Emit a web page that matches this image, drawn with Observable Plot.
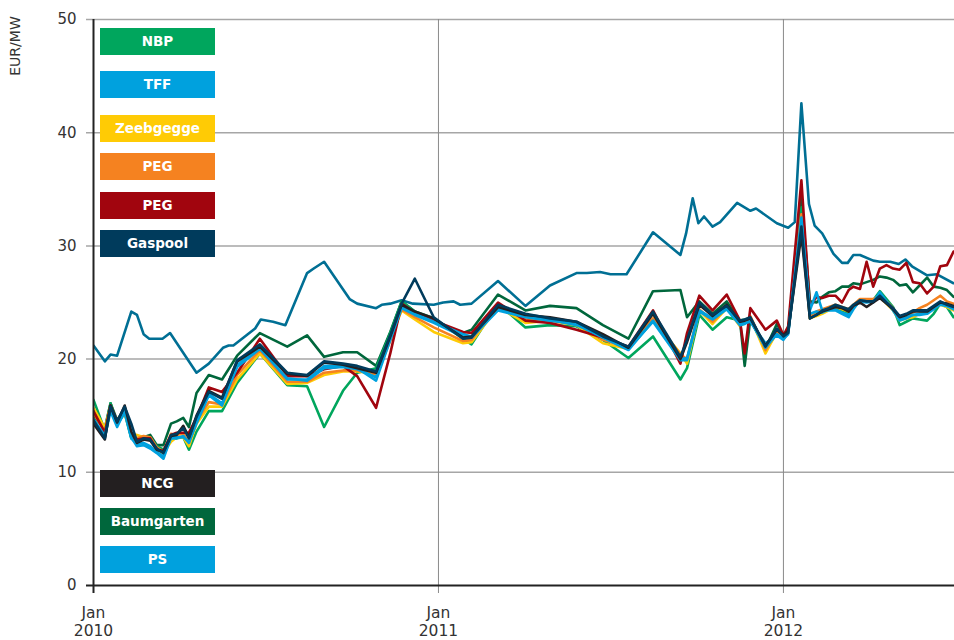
<!DOCTYPE html>
<html><head><meta charset="utf-8">
<script src="https://cdn.jsdelivr.net/npm/d3@7"></script>
<script src="https://cdn.jsdelivr.net/npm/@observablehq/plot@0.6"></script>
<style>
body{margin:0;background:#fff;}
#wrap{position:relative;width:954px;height:640px;overflow:hidden;}
.lg{position:absolute;left:100px;width:115px;height:27px;text-align:center;color:#fff;font-family:"DejaVu Sans",sans-serif;font-weight:bold;font-size:13.5px;line-height:27px;}
.ylab{position:absolute;left:15px;top:46px;transform:translate(-50%,-50%) rotate(-90deg);font-family:"DejaVu Sans",sans-serif;font-size:14px;color:#333;white-space:nowrap;line-height:1;}
</style></head><body><div id="wrap"></div>
<script>
// ---- data ----
const yLabel = "EUR/MW";
const yTicks = [0, 10, 20, 30, 40, 50];
const xTicks = ["2010-01-01", "2011-01-01", "2012-01-01"];

const dates = ["2010-01-01","2010-01-13","2010-01-19","2010-01-26","2010-02-03","2010-02-10","2010-02-16","2010-02-23","2010-03-02","2010-03-09",
"2010-03-16","2010-03-24","2010-03-30","2010-04-06","2010-04-12","2010-04-20","2010-05-03","2010-05-17","2010-06-02","2010-06-26",
"2010-07-25","2010-08-15","2010-09-02","2010-09-22","2010-10-07","2010-10-27","2010-11-11","2010-11-23","2010-12-07","2010-12-27",
"2011-01-27","2011-02-05","2011-03-05","2011-04-03","2011-04-29","2011-05-27","2011-06-24","2011-07-21","2011-08-16","2011-09-14",
"2011-09-21","2011-10-04","2011-10-18","2011-11-02","2011-11-16","2011-11-21","2011-11-27","2011-12-13","2011-12-25","2012-01-01",
"2012-01-06","2012-01-20","2012-01-29","2012-02-05","2012-02-11","2012-02-18","2012-02-25","2012-03-03","2012-03-10","2012-03-15",
"2012-03-22","2012-03-29","2012-04-05","2012-04-12","2012-04-19","2012-04-26","2012-05-03","2012-05-10","2012-05-17","2012-05-24",
"2012-06-01","2012-06-08","2012-06-15","2012-06-22","2012-06-29"];

const NBP = [16.4,13.7,16.1,14.3,15.2,13.0,13.0,12.9,13.1,12.3, 12.0,12.9,13.0,13.1,12.0,13.6,15.4,15.4,17.9,20.5,
17.7,17.6,14.0,17.2,18.8,19.2,22.3,25.1,24.2,23.6, 21.8,21.3,24.9,22.8,23.0,22.9,21.7,20.1,22.0,18.2,
19.2,23.9,22.6,23.7,23.4,23.5,23.6,20.8,22.3,22.0, 22.4,33.4,24.0,24.1,24.3,24.4,24.5,24.3,24.0,24.6,
25.2,25.2,25.2,26.0,25.3,24.6,23.0,23.3,23.6,23.5, 23.4,24.0,24.9,24.6,23.7];

const TFF = [14.7,13.2,15.6,14.2,15.3,13.0,12.5,12.6,12.3,11.8, 11.4,13.0,13.0,13.2,12.6,14.5,16.9,16.1,19.3,20.9,
18.3,18.1,19.2,19.3,19.1,18.4,21.8,24.5,23.9,23.2, 22.0,21.9,24.3,23.7,23.4,23.1,21.9,20.8,23.4,20.0,
20.1,24.2,23.5,24.4,23.0,23.1,23.4,21.0,22.2,21.8, 22.2,32.5,24.0,24.2,24.1,24.4,24.4,24.1,23.9,24.5,
25.1,25.0,25.1,25.7,25.0,24.4,23.6,23.7,23.9,24.0, 24.1,24.5,24.8,24.7,24.4];

const Zeebgegge = [15.7,13.9,15.8,14.5,15.2,13.4,13.3,13.1,13.0,12.0, 11.7,12.7,13.1,13.1,12.3,14.3,15.8,15.8,18.2,20.5,
17.8,17.9,18.6,18.9,18.9,18.7,21.8,24.3,23.5,22.4, 21.4,21.5,24.6,23.2,23.4,23.0,21.4,20.9,23.4,20.5,
19.6,24.3,23.1,24.5,22.9,23.2,23.7,20.5,22.4,21.8, 22.4,32.3,23.6,23.8,24.0,24.3,24.6,24.4,24.2,24.6,
25.1,25.2,25.2,25.5,24.9,24.3,23.4,23.6,23.7,24.0, 24.2,24.5,24.8,24.6,24.3];

const PEG_orange = [15.2,13.6,15.7,14.4,15.3,13.3,13.0,13.2,13.1,12.2, 11.8,13.4,13.3,13.4,12.6,14.5,16.2,16.0,18.6,20.8,
18.0,18.0,18.8,19.0,19.0,18.6,21.6,24.4,23.7,22.8, 21.6,21.7,24.8,23.5,23.5,23.1,21.7,21.0,23.6,20.4,
20.0,24.4,23.3,24.6,23.0,23.3,23.8,20.8,22.5,21.9, 22.5,32.8,23.8,24.2,24.4,24.6,24.8,24.6,24.4,24.8,
25.3,25.3,25.3,25.6,25.1,24.5,23.6,23.9,24.1,24.5, 24.8,25.2,25.6,25.1,24.9];

const PEG_red = [15.4,13.5,15.9,14.5,15.7,13.2,12.9,13.0,13.0,12.0, 11.9,13.3,13.5,13.5,13.5,14.8,17.5,17.1,18.8,21.8,
18.5,18.5,19.1,19.4,18.5,15.7,20.5,24.9,24.1,23.4, 22.4,22.3,25.0,23.4,23.2,22.6,21.9,21.1,24.3,19.6,
22.3,25.6,24.3,25.7,23.4,20.5,24.5,22.6,23.4,22.1, 22.9,35.8,24.6,25.5,25.4,25.6,25.6,25.0,26.1,26.4,
26.2,28.6,26.4,28.0,28.3,28.0,27.9,28.5,26.8,26.7, 25.8,26.4,28.2,28.3,29.5];

const Gaspool = [14.6,13.0,15.8,14.5,15.8,14.3,12.7,13.0,12.9,12.1, 11.7,13.3,13.4,13.9,13.0,14.9,17.1,16.5,19.9,21.3,
18.8,18.6,19.8,19.6,19.4,18.9,22.1,24.9,27.1,23.7, 21.8,21.9,24.8,24.0,23.6,23.3,22.0,21.1,24.2,20.2,
21.7,25.0,23.9,24.7,23.4,23.5,23.7,21.1,22.7,22.0, 22.3,31.7,23.6,23.9,24.3,24.5,24.8,24.6,24.4,24.8,
25.2,25.1,25.1,25.6,25.0,24.5,23.8,24.0,24.3,24.3, 24.3,24.7,25.1,24.8,24.6];

const NCG = [14.3,12.9,15.9,14.4,15.9,13.6,12.6,12.9,12.8,12.0, 11.8,13.2,13.3,14.1,13.1,15.0,17.2,16.6,19.8,21.1,
18.7,18.5,19.7,19.5,19.2,18.8,22.0,24.8,24.2,23.6, 21.9,22.0,24.6,23.9,23.7,23.3,22.2,21.0,24.0,20.0,
21.5,24.8,23.8,24.8,23.3,23.4,23.6,21.2,22.6,22.1, 22.5,31.0,23.6,23.9,24.2,24.4,24.6,24.5,24.2,24.7,
25.0,24.6,25.0,25.4,24.9,24.4,23.7,23.9,24.2,24.2, 24.2,24.6,25.0,24.9,24.7];

const Baumgarten = [14.9,13.9,16.1,14.6,15.6,13.1,13.0,13.1,13.3,12.4, 12.4,14.3,14.5,14.8,14.0,17.0,18.6,18.2,20.3,22.3,
21.1,22.1,20.2,20.6,20.6,19.4,22.4,25.1,24.2,23.3, 22.3,22.6,25.7,24.3,24.7,24.5,23.0,21.8,26.0,26.1,
23.7,25.1,24.0,25.1,23.4,19.4,23.6,20.9,23.1,22.1, 22.4,34.3,25.1,25.0,25.5,25.9,26.0,26.4,26.4,26.7,
26.6,26.8,27.0,27.3,27.2,27.0,26.5,26.6,25.9,26.5, 27.2,26.4,26.3,26.1,25.5];

const PS = [14.5,13.1,15.4,14.0,15.4,13.1,12.3,12.4,12.1,11.7, 11.2,13.1,13.1,13.1,12.7,14.3,16.8,15.9,19.5,21.0,
18.2,18.2,19.4,19.4,19.2,18.1,21.7,24.6,24.0,23.3, 22.2,22.0,24.4,23.9,23.5,23.0,22.0,20.9,23.3,19.9,
19.9,24.3,23.6,24.6,23.1,23.2,23.3,21.4,22.1,21.7, 22.3,32.0,24.3,25.9,24.3,24.3,24.3,24.0,23.7,24.4,
25.2,25.1,25.0,25.9,25.1,24.3,23.4,23.6,23.9,23.9, 24.0,24.4,24.9,24.7,24.5];

// top (unlabelled) series with its own dates
const topDates = ["2010-01-01","2010-01-13","2010-01-19","2010-01-26","2010-02-10","2010-02-16","2010-02-23","2010-03-01","2010-03-15","2010-03-23",
"2010-04-20","2010-05-03","2010-05-18","2010-05-24","2010-05-29","2010-06-21","2010-06-27","2010-07-10","2010-07-23","2010-08-15",
"2010-08-22","2010-09-02","2010-09-29","2010-10-07","2010-10-27","2010-11-02","2010-11-11","2010-11-23","2010-12-05","2010-12-27",
"2011-01-06","2011-01-17","2011-01-24","2011-02-05","2011-03-05","2011-04-03","2011-04-29","2011-05-27","2011-06-07","2011-06-21",
"2011-07-02","2011-07-19","2011-08-16","2011-09-14","2011-09-20","2011-09-27","2011-10-03","2011-10-09","2011-10-18","2011-10-26",
"2011-11-13","2011-11-27","2011-12-03","2011-12-25","2012-01-06","2012-01-13","2012-01-20","2012-01-28","2012-02-03","2012-02-11",
"2012-02-23","2012-03-03","2012-03-09","2012-03-15","2012-03-22","2012-04-05","2012-04-12","2012-04-23","2012-05-02","2012-05-09",
"2012-05-16","2012-06-01","2012-06-11","2012-06-29"];
const topValues = [21.2,19.8,20.4,20.3,24.2,23.9,22.2,21.8,21.8,22.3, 18.8,19.6,21.0,21.2,21.2,22.7,23.5,23.3,23.0,27.6,
28.0,28.6,25.3,24.9,24.5,24.8,24.9,25.2,24.9,24.8, 25.0,25.1,24.8,24.9,26.9,24.7,26.5,27.6,27.6,27.7,
27.5,27.5,31.2,29.2,31.1,34.2,32.0,32.6,31.7,32.1, 33.8,33.1,33.3,32.0,31.6,32.1,42.6,33.7,31.8,31.1,
29.3,28.5,28.5,29.2,29.2,28.7,28.6,28.6,28.4,28.8, 28.2,27.4,27.5,26.7];

const legendLabels = ["NBP","TFF","Zeebgegge","PEG","PEG","Gaspool","NCG","Baumgarten","PS"];
const legendColors = ["#00a65d","#00a1de","#ffcb05","#f58220","#a1050e","#003b5c","#231f20","#00673c","#00a1de"];
const topColor = "#006f94";

// ---- build ----
const parse = d3.utcParse("%Y-%m-%d");
const seriesValues = [NBP, TFF, Zeebgegge, PEG_orange, PEG_red, Gaspool, NCG, Baumgarten, PS];
// drawing order (bottom -> top), indexes into legend arrays
const drawOrder = [7, 0, 2, 3, 4, 1, 8, 6, 5];

const lineMarks = [
  Plot.line(topDates.map((d, i) => ({date: parse(d), value: topValues[i]})),
    {x: "date", y: "value", stroke: topColor, strokeWidth: 2.6, clip: true})
];
for (const k of drawOrder) {
  const rows = dates.map((d, i) => ({date: parse(d), value: seriesValues[k][i]}));
  lineMarks.push(Plot.line(rows, {x: "date", y: "value", stroke: legendColors[k], strokeWidth: 2.6, clip: true}));
}

const xTickDates = xTicks.map(parse);

const chart = Plot.plot({
  width: 954, height: 640,
  marginLeft: 93, marginRight: 0, marginTop: 19, marginBottom: 55,
  x: {type: "utc", domain: [parse("2010-01-01"), parse("2012-06-30")]},
  y: {domain: [0, 50]},
  style: {fontFamily: "'DejaVu Sans', sans-serif", fontSize: "16px", color: "#333", background: "#fff"},
  marks: [
    Plot.ruleY(yTicks.filter(d => d > 0), {stroke: "#a6a6a6", strokeWidth: 1.5, insetLeft: -7}),
    Plot.ruleX(xTickDates.slice(1), {stroke: "#8a8a8a", strokeWidth: 1, insetBottom: -8}),
    Plot.axisY({ticks: yTicks, tickSize: 0, tickPadding: 17, label: null, fontSize: 15}),
    Plot.axisX({ticks: xTickDates, tickSize: 0, tickPadding: 20, label: null, tickFormat: d3.utcFormat("%b\n%Y"), lineHeight: 1.15, fontSize: 15.5}),
    ...lineMarks,
    Plot.ruleY([0], {stroke: "#222", strokeWidth: 2, insetLeft: -7}),
    Plot.ruleX([xTickDates[0]], {stroke: "#222", strokeWidth: 2, insetBottom: -8})
  ]
});

const wrap = document.getElementById("wrap");
wrap.appendChild(chart);

const yl = document.createElement("div");
yl.className = "ylab";
yl.textContent = yLabel;
wrap.appendChild(yl);

// legend boxes (layout positions)
const legendTops = [28, 71, 115, 153, 192, 230, 470, 508, 546];
legendLabels.forEach((lab, i) => {
  const div = document.createElement("div");
  div.className = "lg";
  div.style.top = legendTops[i] + "px";
  div.style.background = legendColors[i];
  div.textContent = lab;
  wrap.appendChild(div);
});
</script></body></html>
